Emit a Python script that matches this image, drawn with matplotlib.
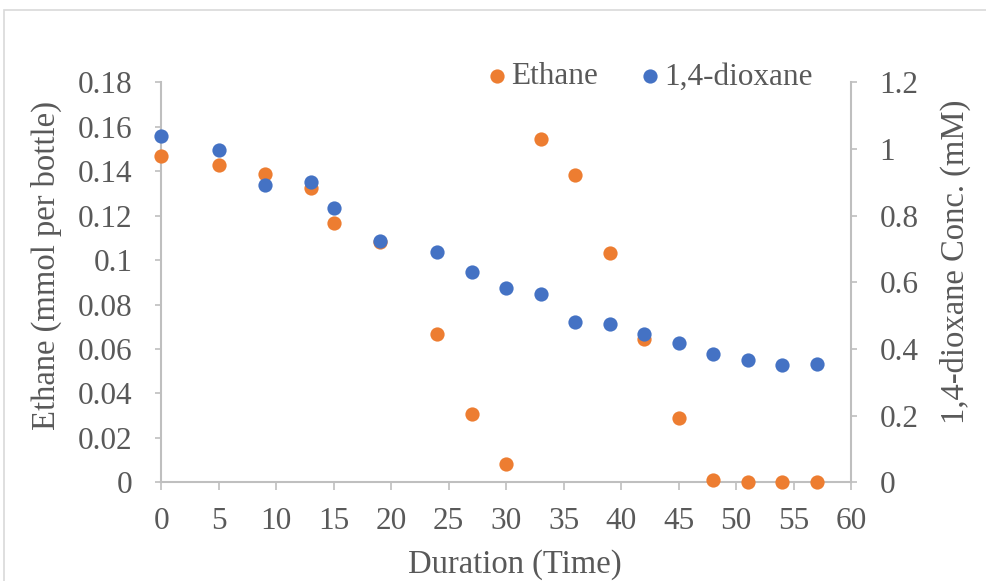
import matplotlib
matplotlib.use("Agg")
import matplotlib.pyplot as plt
from matplotlib.patches import Rectangle

# Sampling times
time = [0, 5, 9, 13, 15, 19, 24, 27, 30, 33, 36, 39, 42, 45, 48, 51, 54, 57]

# Ethane in the bottle headspace (mmol per bottle)
ethane = [0.147, 0.1428, 0.1387, 0.1323, 0.1167, 0.1083, 0.0666, 0.0307, 0.0084,
          0.1544, 0.1384, 0.1033, 0.0644, 0.0288, 0.0012, 0.0, 0.0, 0.0]

# 1,4-dioxane concentration (mM)
dioxane = [1.040, 0.998, 0.892, 0.900, 0.824, 0.724, 0.691, 0.630, 0.584,
           0.564, 0.482, 0.476, 0.445, 0.417, 0.384, 0.367, 0.351, 0.354]

x_ticks = list(range(0, 61, 5))
left_ticks = [0, 0.02, 0.04, 0.06, 0.08, 0.1, 0.12, 0.14, 0.16, 0.18]
left_labels = ["0", "0.02", "0.04", "0.06", "0.08", "0.1", "0.12", "0.14", "0.16", "0.18"]
right_ticks = [0, 0.2, 0.4, 0.6, 0.8, 1.0, 1.2]
right_labels = ["0", "0.2", "0.4", "0.6", "0.8", "1", "1.2"]

ORANGE = "#ED7D31"
BLUE = "#4472C4"
TEXT = "#595959"
AXIS = "#BFBFBF"
FS = 22.5       # tick labels and legend
FS_TITLE = 23.5  # axis titles

plt.rcParams["font.family"] = ["Liberation Serif", "DejaVu Serif"]

W, H = 987, 581
fig = plt.figure(figsize=(W / 100, H / 100), dpi=100)
fig.patch.set_facecolor("white")
ax = fig.add_axes([161.3 / W, 1 - 482.3 / H, (851 - 161.3) / W, (482.3 - 82.3) / H])
ax2 = ax.twinx()

# Chart-area border
fig.patches.append(Rectangle((4.5 / W, -0.05), 1.2, 1 - 10.5 / H + 0.05,
                             transform=fig.transFigure, fill=False,
                             edgecolor="#D9D9D9", linewidth=1.2, zorder=0))

ax.scatter(time, ethane, s=105, color=ORANGE, linewidths=0, zorder=3, label="Ethane",
           clip_on=False)
ax2.scatter(time, dioxane, s=105, color=BLUE, linewidths=0, zorder=3, label="1,4-dioxane",
            clip_on=False)

ax.set_xlim(0, 60)
ax.set_ylim(0, 0.18)
ax2.set_ylim(0, 1.2)

ax.set_xticks(x_ticks)
ax.set_xticklabels([str(v) for v in x_ticks])
ax.set_yticks(left_ticks)
ax.set_yticklabels(left_labels)
ax2.set_yticks(right_ticks)
ax2.set_yticklabels(right_labels)

for a in (ax, ax2):
    a.spines["top"].set_visible(False)
    a.set_facecolor("none")
ax.spines["right"].set_visible(False)
ax2.spines["left"].set_visible(False)
ax2.spines["bottom"].set_visible(False)
for sp in ("left", "bottom"):
    ax.spines[sp].set_color(AXIS)
    ax.spines[sp].set_linewidth(1.5)
ax2.spines["right"].set_color(AXIS)
ax2.spines["right"].set_linewidth(1.5)

ax.tick_params(axis="x", direction="out", length=5.5, width=1.2, color=AXIS,
               labelsize=FS, labelcolor=TEXT, pad=12)
ax.tick_params(axis="y", direction="out", length=4.5, width=1.2, color=AXIS,
               labelsize=FS, labelcolor=TEXT, pad=16)
ax2.tick_params(axis="y", direction="out", length=4.5, width=1.2, color=AXIS,
                labelsize=FS, labelcolor=TEXT, pad=16)

ax.set_xlabel("Duration (Time)", fontsize=FS_TITLE, color=TEXT, va="center", ha="center")
ax.xaxis.set_label_coords(0.5128, -0.207)
ax.set_ylabel("Ethane (mmol per bottle)", fontsize=FS_TITLE, color=TEXT,
              va="center", ha="center")
ax.yaxis.set_label_coords(-0.167, 0.543)
ax2.set_ylabel("1,4-dioxane Conc. (mM)", fontsize=FS_TITLE, color=TEXT,
               va="center", ha="center")
ax2.yaxis.set_label_coords(1.1508, 0.552)

h1, l1 = ax.get_legend_handles_labels()
h2, l2 = ax2.get_legend_handles_labels()
em = FS * 100 / 72
ax2.legend(h1 + h2, l1 + l2, loc="center left",
           bbox_to_anchor=((497 - 0.3 * em) / W, 1 - 77 / H),
           bbox_transform=fig.transFigure,
           ncol=2, frameon=False, fontsize=FS, labelcolor=TEXT,
           handlelength=0.6, handletextpad=0.15, columnspacing=1.36,
           borderpad=0, borderaxespad=0, scatterpoints=1)

fig.savefig("out.png", dpi=100, facecolor="white")
